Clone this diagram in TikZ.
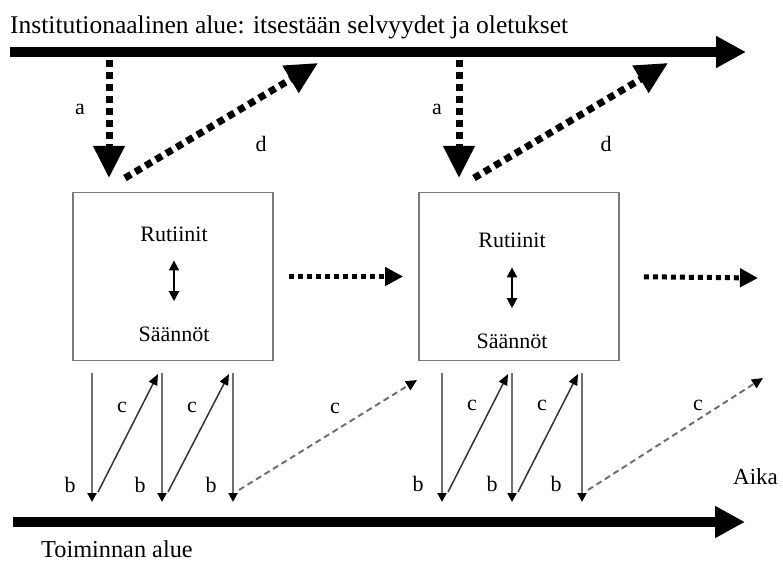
\documentclass[tikz,border=0pt]{standalone}
\usepackage{fontspec}
\setmainfont{Liberation Serif}
\usetikzlibrary{arrows.meta, positioning}
\definecolor{linegray}{HTML}{707070}
\definecolor{boxgray}{HTML}{7A7A7A}
\definecolor{arrgray}{HTML}{333333}

\begin{document}
\begin{tikzpicture}[x=1pt, y=-1pt,
  realm/.style={line width=10pt, -{Triangle[length=30pt, width=30pt]}},
  flow/.style={line width=7pt, dash pattern=on 7pt off 5pt,
               -{Triangle[length=32pt, width=30pt]}},
  nextstep/.style={line width=5pt, dash pattern=on 5pt off 4pt,
                   -{Triangle[length=18pt, width=18pt]}},
  routine/.style={draw=boxgray, line width=1.8pt,
                  minimum width=200pt, minimum height=168pt},
  txt/.style={font=\fontsize{22}{26}\selectfont, inner sep=0pt, anchor=base},
  lbl/.style={font=\fontsize{22}{26}\selectfont, inner sep=1pt, anchor=base, fill=white},
  updown/.style={line width=2pt,
                 {Triangle[length=10pt, width=10pt]}-{Triangle[length=10pt, width=10pt]}},
  bline/.style={linegray, line width=2.2pt, -{Triangle[length=9pt, width=9pt, color=black]}},
  cline/.style={arrgray, line width=1.5pt, -{Triangle[length=11pt, width=9pt, color=black]}},
  cdash/.style={linegray, line width=2pt, dash pattern=on 6pt off 4pt,
                -{Triangle[length=11pt, width=10pt, color=black]}}
]
  \useasboundingbox (0,0) rectangle (783,561);

  % Institutional realm
  \node[font=\fontsize{25.5}{30}\selectfont, anchor=base west, inner sep=0pt] (inst) at (10,34)
    {Institutionaalinen alue: itsestään selvyydet ja oletukset};
  \coordinate (instS) at (10,52);
  \coordinate (instE) at (746,52);
  \draw[realm] (instS) -- (instE);

  % Realm of action
  \node[font=\fontsize{24.3}{29}\selectfont, anchor=base west, inner sep=0pt] (act) at (41,557)
    {Toiminnan alue};
  \node[font=\fontsize{23}{28}\selectfont, anchor=base west, inner sep=0pt] (aika) at (733,484) {Aika};
  \coordinate (actS) at (13,522);
  \coordinate (actE) at (745,522);
  \draw[realm] (actS) -- (actE);

  % Boxes
  \node[routine] (box1) at (173,276.5) {};
  \node[routine] (box2) at (519,276.5) {};
  \node[txt] (rut1) at (174,241) {Rutiinit};
  \node[txt] (saa1) at (174,341) {Säännöt};
  \node[txt] (rut2) at (512,247) {Rutiinit};
  \node[txt] (saa2) at (512,348) {Säännöt};
  \draw[updown] ([yshift=-19pt]rut1.south) -- ([yshift=25pt]saa1.north);
  \draw[updown] ([yshift=-20pt]rut2.south) -- ([yshift=25pt]saa2.north);

  % Time flow between boxes
  \coordinate (next) at (758,278);
  \draw[nextstep, shorten <=15pt, shorten >=15pt] (box1.east) -- (box2.west);
  \draw[nextstep, shorten <=24pt] (box2.east) -- (next);

  % Encoding (a) and institutionalisation (d)
  \coordinate (a1s) at (109,60);  \coordinate (a1e) at (109,178);
  \coordinate (d1s) at (125,178); \coordinate (d1e) at (318,63);
  \coordinate (a2s) at (459,60);  \coordinate (a2e) at (459,178);
  \coordinate (d2s) at (474,178); \coordinate (d2e) at (668,63);
  \draw[flow] (a1s) -- (a1e);
  \draw[flow] (d1s) -- (d1e);
  \draw[flow] (a2s) -- (a2e);
  \draw[flow] (d2s) -- (d2e);
  \node[lbl] (la1) at (80,115) {a};
  \node[lbl] (ld1) at (261,152) {d};
  \node[lbl] (la2) at (437,115) {a};
  \node[lbl] (ld2) at (606,152) {d};

  % Enacting (b) and replication (c), first round
  \coordinate (p1) at (92,373);  \coordinate (q1) at (92,502);
  \coordinate (p2) at (162,373); \coordinate (q2) at (162,502);
  \coordinate (p3) at (233,373); \coordinate (q3) at (233,502);
  \coordinate (r1) at (417,380);
  \draw[bline] (p1) -- (q1);
  \draw[bline] (p2) -- (q2);
  \draw[bline] (p3) -- (q3);
  \draw[cline] ([xshift=6pt,yshift=10pt]q1) -- ([xshift=-4pt,yshift=-1pt]p2);
  \draw[cline] ([xshift=6pt,yshift=10pt]q2) -- ([xshift=-4pt,yshift=-1pt]p3);
  \draw[cdash] ([xshift=6pt,yshift=12pt]q3) -- (r1);
  \node[lbl] (lc11) at (122,412) {c};
  \node[lbl] (lc12) at (192,412) {c};
  \node[lbl] (lc13) at (335,413) {c};
  \node[lbl, fill=none] (lb11) at (70,492) {b};
  \node[lbl, fill=none] (lb12) at (140,492) {b};
  \node[lbl, fill=none] (lb13) at (211,492) {b};

  % Enacting (b) and replication (c), second round
  \coordinate (p4) at (442,373); \coordinate (q4) at (442,502);
  \coordinate (p5) at (512,373); \coordinate (q5) at (512,502);
  \coordinate (p6) at (582,373); \coordinate (q6) at (582,502);
  \coordinate (r2) at (763,378);
  \draw[bline] (p4) -- (q4);
  \draw[bline] (p5) -- (q5);
  \draw[bline] (p6) -- (q6);
  \draw[cline] ([xshift=6pt,yshift=10pt]q4) -- ([xshift=-4pt,yshift=-1pt]p5);
  \draw[cline] ([xshift=6pt,yshift=10pt]q5) -- ([xshift=-4pt,yshift=-1pt]p6);
  \draw[cdash] ([xshift=6pt,yshift=12pt]q6) -- (r2);
  \node[lbl] (lc21) at (472,410) {c};
  \node[lbl] (lc22) at (542,410) {c};
  \node[lbl] (lc23) at (698,410) {c};
  \node[lbl, fill=none] (lb21) at (418,491) {b};
  \node[lbl, fill=none] (lb22) at (492,491) {b};
  \node[lbl, fill=none] (lb23) at (556,491) {b};
\end{tikzpicture}
\end{document}
